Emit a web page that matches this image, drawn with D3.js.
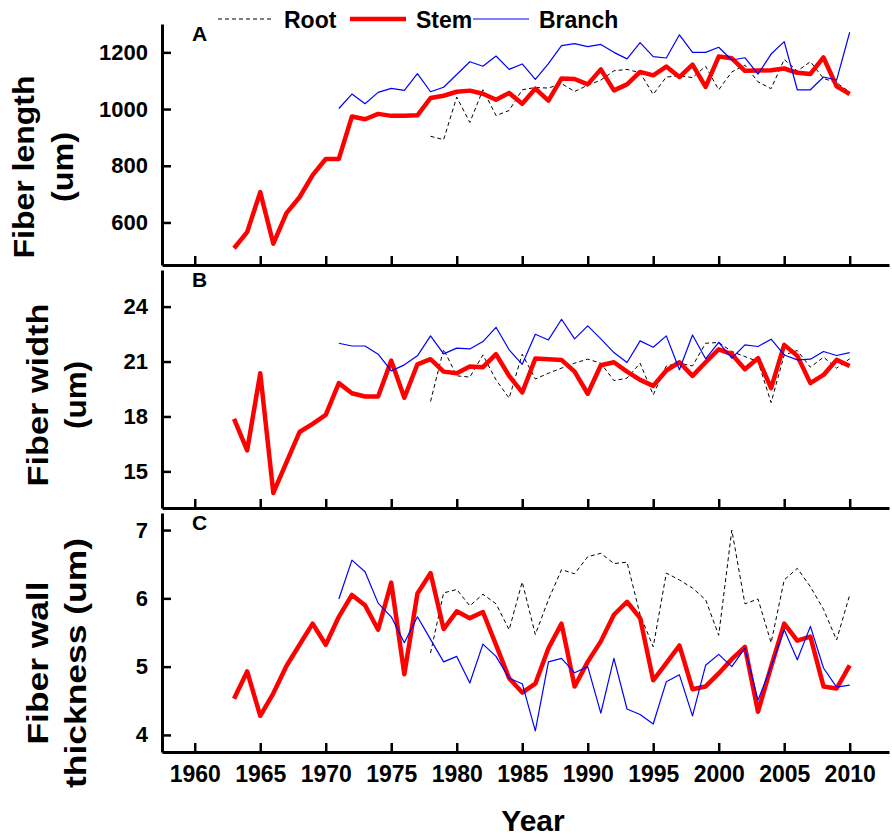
<!DOCTYPE html>
<html>
<head>
<meta charset="utf-8">
<script src="https://cdn.jsdelivr.net/npm/d3@7"></script>
<style>
  body { margin: 0; background: #fff; }
  text { font-family: "Liberation Sans", Arial, sans-serif; font-weight: bold; fill: #000; }
</style>
</head>
<body>
<div id="chart"></div>
<script>
"use strict";

// ---- data ----
const stemStart = 1963, branchStart = 1971, rootStart = 1978;

const stemLength = [509, 566, 707, 525, 633, 689, 767, 824, 824, 974, 964, 983, 976, 976, 978,
  1039, 1047, 1061, 1065, 1054, 1033, 1057, 1019, 1072, 1030, 1108, 1106, 1087, 1140, 1066,
  1087, 1131, 1119, 1150, 1113, 1157, 1078, 1185, 1179, 1135, 1136, 1137, 1143, 1128, 1124,
  1182, 1080, 1053];
const branchLength = [1002, 1053, 1019, 1059, 1073, 1066, 1125, 1061, 1077, 1122,
  1167, 1151, 1187, 1140, 1159, 1105, 1160, 1224, 1231, 1220,
  1228, 1200, 1177, 1234, 1185, 1180, 1262, 1200, 1200, 1218,
  1173, 1181, 1123, 1194, 1238, 1068, 1068, 1113, 1102, 1271];
const rootLength = [904, 892, 1042, 953, 1068, 977, 995, 1068, 1076, 1074, 1090, 1062,
  1084, 1102, 1135, 1140, 1128, 1052, 1113, 1117, 1111, 1151,
  1068, 1131, 1155, 1096, 1072, 1175, 1134, 1167, 1108, 1093, 1060];

const stemWidth = [17.87, 16.15, 20.36, 13.82, 15.49, 17.15, 17.6, 18.09,
  19.82, 19.27, 19.09, 19.09, 21.05, 19.02, 20.85, 21.13, 20.45, 20.36,
  20.73, 20.69, 21.4, 20.22, 19.31, 21.16, 21.13, 21.09, 20.45, 19.24,
  20.8, 20.96, 20.45, 20.0, 19.67, 20.51, 20.96, 20.22, 20.96, 21.67,
  21.4, 20.58, 21.18, 19.55, 21.91, 21.31, 19.82, 20.27, 21.09, 20.76];
const branchWidth = [22.0, 21.85, 21.85, 21.4, 20.49, 20.82, 21.31, 22.4, 21.42, 21.73,
  21.69, 22.09, 22.87, 21.64, 20.85, 22.49, 22.18, 23.31, 22.24, 22.95,
  22.24, 21.49, 20.95, 22.13, 21.78, 22.4, 20.55, 22.45, 21.15, 22.05,
  21.18, 21.91, 21.82, 22.22, 21.36, 21.09, 21.13, 21.55, 21.33, 21.49];
const rootWidth = [18.82, 21.67, 20.22, 20.15, 21.36, 20.0, 19.0, 21.4, 20.05, 20.36, 20.64, 20.91,
  21.13, 20.91, 19.96, 20.09, 20.91, 19.18, 20.76, 20.91, 20.76, 22.0,
  22.04, 21.55, 21.27, 21.0, 18.76, 21.36, 21.6, 20.69, 21.24, 20.64, 21.15];

const stemWall = [4.53, 4.93, 4.28, 4.61, 5.01, 5.32, 5.63, 5.32,
  5.73, 6.05, 5.9, 5.54, 6.23, 4.89, 6.07, 6.37, 5.55, 5.81,
  5.71, 5.8, 5.32, 4.83, 4.62, 4.75, 5.27, 5.63, 4.71, 5.07,
  5.37, 5.76, 5.95, 5.71, 4.8, 5.05, 5.31, 4.67, 4.71, 4.9,
  5.11, 5.29, 4.34, 5.0, 5.63, 5.38, 5.44, 4.71, 4.68, 5.02];
const branchWall = [5.99, 6.56, 6.39, 5.93, 5.73, 5.35, 5.73, 5.4, 5.07, 5.15,
  4.76, 5.33, 5.15, 4.83, 4.75, 4.06, 5.07, 5.12, 4.91, 5.0,
  4.32, 5.12, 4.38, 4.3, 4.16, 4.78, 4.88, 4.28, 5.02, 5.18,
  5.0, 5.27, 4.51, 5.0, 5.54, 5.1, 5.59, 4.98, 4.7, 4.73];
const rootWall = [5.2, 6.08, 6.13, 5.89, 6.06, 5.92, 5.54, 6.24, 5.47, 5.98, 6.42, 6.36,
  6.61, 6.66, 6.51, 6.53, 5.76, 5.29, 6.37, 6.27, 6.15, 5.98,
  5.46, 7.0, 5.92, 5.99, 5.35, 6.27, 6.44, 6.17, 5.84, 5.39, 6.05];

const xTicks = [1960, 1965, 1970, 1975, 1980, 1985, 1990, 1995, 2000, 2005, 2010];
const seriesNames = ["Root", "Stem", "Branch"];

// ---- layout ----
const W = 892, H = 838;
const left = 162, right = 889;

const svg = d3.select("#chart").append("svg")
  .attr("width", W)
  .attr("height", H);

const x = d3.scaleLinear().domain([1957.5, 2013]).range([left, right]);

const styles = {
  Root: { color: "#000", width: 1, dash: "4,3" },
  Stem: { color: "#ff0000", width: 4.5, dash: null },
  Branch: { color: "#0000ff", width: 1.2, dash: null }
};

// title lines: text, baseline x, stretched length
const panels = [
  { letter: "A", top: 24, bottom: 265, domain: [450, 1300], ticks: [600, 800, 1000, 1200],
    title: [["Fiber length", 34, 183], ["(um)", 73, 70]], ty: 167,
    root: rootLength, stem: stemLength, branch: branchLength },
  { letter: "B", top: 270, bottom: 508, domain: [13, 26], ticks: [15, 18, 21, 24],
    title: [["Fiber width", 48, 183], ["(um)", 86, 68]], ty: 395,
    root: rootWidth, stem: stemWidth, branch: branchWidth },
  { letter: "C", top: 513, bottom: 752, domain: [3.75, 7.25], ticks: [4, 5, 6, 7],
    title: [["Fiber wall", 48, 163], ["thickness (um)", 86, 250]], ty: 663,
    root: rootWall, stem: stemWall, branch: branchWall }
];

function toPoints(values, start) {
  return values.map((v, i) => ({ year: start + i, value: v }));
}

panels.forEach((p, idx) => {
  const y = d3.scaleLinear().domain(p.domain).range([p.bottom, p.top]);
  const g = svg.append("g");

  // lines
  const line = d3.line().x(d => x(d.year)).y(d => y(d.value));
  const sets = [
    ["Root", toPoints(p.root, rootStart)],
    ["Stem", toPoints(p.stem, stemStart)],
    ["Branch", toPoints(p.branch, branchStart)]
  ];
  sets.forEach(([name, pts]) => {
    const s = styles[name];
    g.append("path")
      .datum(pts)
      .attr("d", line)
      .attr("fill", "none")
      .attr("stroke", s.color)
      .attr("stroke-width", s.width)
      .attr("stroke-linejoin", "round")
      .attr("stroke-dasharray", s.dash);
  });

  // axes
  const yAxis = g.append("g")
    .attr("transform", `translate(${left},0)`)
    .call(d3.axisLeft(y).tickValues(p.ticks).tickFormat(d3.format("d"))
      .tickSizeInner(-9).tickSizeOuter(0).tickPadding(14));
  yAxis.selectAll("text").style("font-size", "22px").attr("fill", "#000");

  const xAxis = g.append("g")
    .attr("transform", `translate(0,${p.bottom})`)
    .call(d3.axisBottom(x).tickValues(xTicks).tickSizeInner(-9).tickSizeOuter(0).tickPadding(14)
      .tickFormat(idx === 2 ? d3.format("d") : ""));
  xAxis.selectAll("text").style("font-size", "23px").attr("fill", "#000");

  [yAxis, xAxis].forEach(a => {
    a.select(".domain").attr("stroke", "#000").attr("stroke-width", 3);
    a.selectAll(".tick line").attr("stroke", "#000").attr("stroke-width", 2.5);
  });

  // panel letter
  g.append("text")
    .attr("x", 192)
    .attr("y", p.top + 17)
    .style("font-size", "21px")
    .text(p.letter);

  // y title
  const t = g.append("g").attr("transform", `translate(0,${p.ty})`);
  p.title.forEach(([s, bx, len]) => {
    t.append("text")
      .attr("transform", `translate(${bx},0) rotate(-90)`)
      .attr("text-anchor", "middle")
      .attr("textLength", len)
      .attr("lengthAdjust", "spacingAndGlyphs")
      .style("font-size", "30px")
      .text(s);
  });
});

// x title
svg.append("text")
  .attr("x", 533)
  .attr("y", 831)
  .attr("text-anchor", "middle")
  .style("font-size", "30px")
  .text("Year");

// legend
const legendX = [218, 350, 473];
const legend = svg.append("g");
seriesNames.forEach((name, i) => {
  const s = styles[name];
  legend.append("line")
    .attr("x1", legendX[i]).attr("x2", legendX[i] + 56)
    .attr("y1", 19).attr("y2", 19)
    .attr("stroke", s.color)
    .attr("stroke-width", s.width)
    .attr("stroke-dasharray", s.dash);
  legend.append("text")
    .attr("x", legendX[i] + 66)
    .attr("y", 28)
    .style("font-size", "23px")
    .text(name);
});
</script>
</body>
</html>
